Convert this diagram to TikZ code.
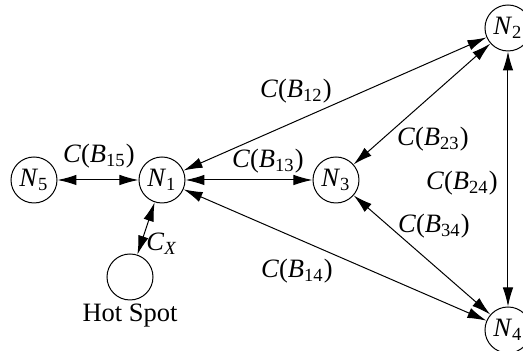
\documentclass[tikz,border=0pt]{standalone}
\usepackage{fontspec}
\setmainfont{Liberation Serif}
\usetikzlibrary{arrows.meta}
\newcommand{\nn}[1]{\textit{N}\textsubscript{#1}}
\newcommand{\cb}[1]{\textit{C}(\textit{B}\textsubscript{#1})}

\begin{document}
\begin{tikzpicture}[x=.4pt,y=-.4pt,line width=.4pt,
  font=\fontsize{10.6}{12}\selectfont,
  nd/.style={circle,draw,minimum size=18.4pt,inner sep=0pt},
  lnk/.style={{Latex[length=7.6pt,width=4.2pt]}-{Latex[length=7.6pt,width=4.2pt]}}]
  \useasboundingbox (0,0) rectangle (523,351);
  % nodes
  \node[nd] (n1) at (162,180){\nn{1}};
  \node[nd] (n2) at (508,28){\nn{2}};
  \node[nd] (n3) at (336,180){\nn{3}};
  \node[nd] (n4) at (508,330){\nn{4}};
  \node[nd] (n5) at (34,180){\nn{5}};
  \node[nd] (hs) at (130,277){};
  \node[anchor=base] (hslab) at (130,322){Hot Spot};
  % links
  \draw[lnk] (n5) -- (n1);
  \draw[lnk] (n1) -- (n3);
  \draw[lnk] (n1) -- (n2);
  \draw[lnk] (n1) -- (n4);
  \draw[lnk] (n3) -- (n2);
  \draw[lnk] (n3) -- (n4);
  \draw[lnk] (n2) -- (n4);
  \draw[lnk] (hs) -- (n1);
  % costs
  \node (l15) at (99,156){\cb{15}};
  \node (l13) at (268,161){\cb{13}};
  \node (l12) at (296,91){\cb{12}};
  \node (l23) at (433,139){\cb{23}};
  \node (l24) at (462,183){\cb{24}};
  \node (l34) at (434,226){\cb{34}};
  \node (l14) at (297,271){\cb{14}};
  \node (lx) at (162,244){\textit{C}\textsubscript{\textit{X}}};
\end{tikzpicture}
\end{document}
